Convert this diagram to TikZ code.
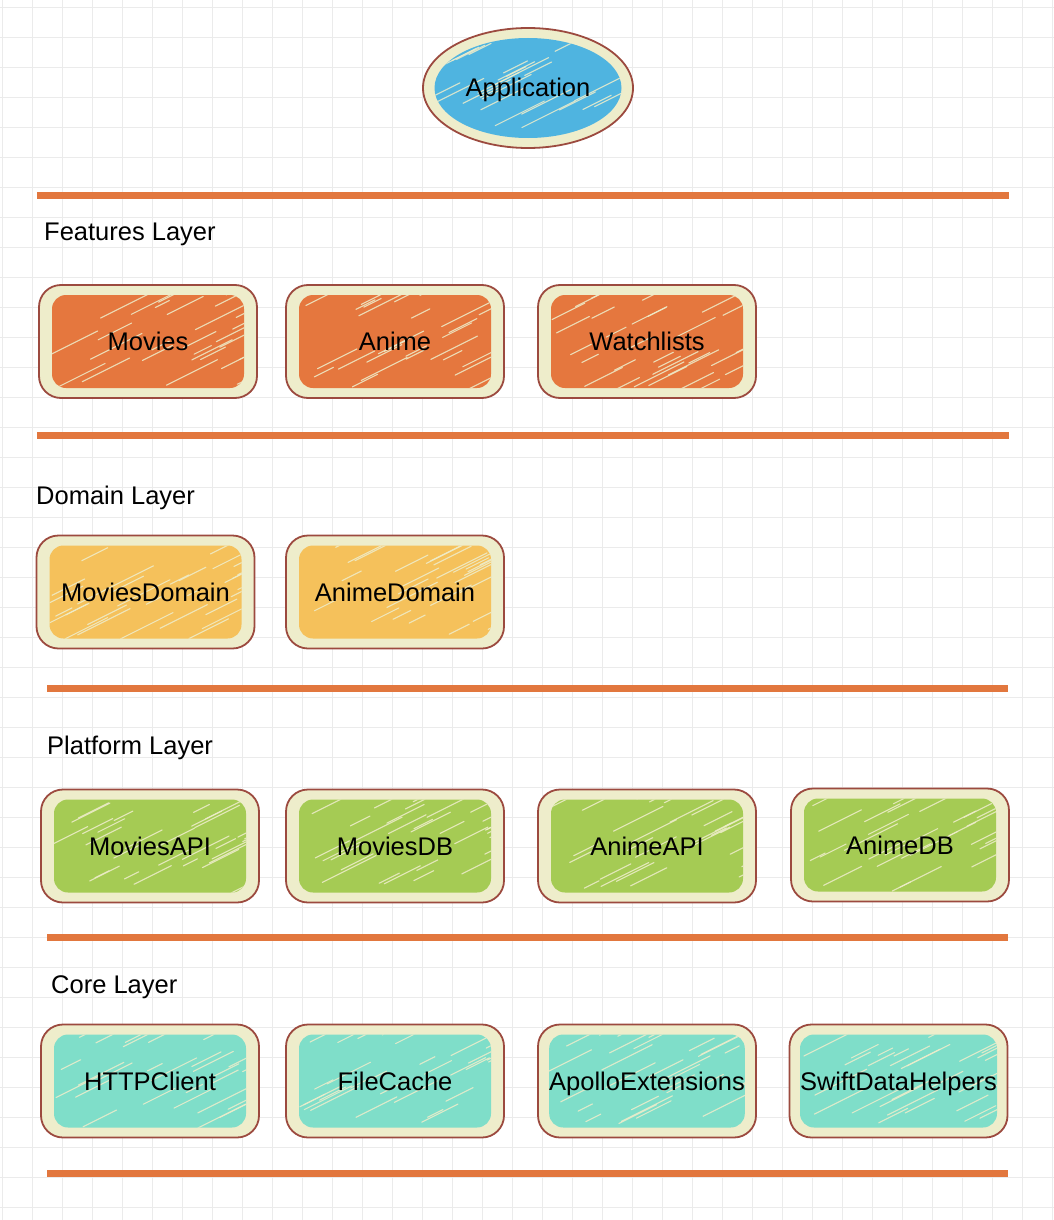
\documentclass[tikz,border=0pt]{standalone}
\usepackage{fontspec}
\setmainfont{Liberation Sans}
\usetikzlibrary{calc,shapes.geometric}
\definecolor{beige}{HTML}{EEEDCB}
\definecolor{edgec}{HTML}{9C4A3F}
\definecolor{sepc}{HTML}{E2773E}
\definecolor{cOrange}{HTML}{E5773E}
\definecolor{cBlue}{HTML}{4FB4E0}
\definecolor{cYellow}{HTML}{F5C15B}
\definecolor{cGreen}{HTML}{A5CB54}
\definecolor{cTeal}{HTML}{7FDEC9}
\definecolor{gridc}{HTML}{EBEBEB}
\pgfmathsetseed{7}
\tikzset{
  hatched/.style={path picture={
    \foreach \k in {1,...,30}{
      \pgfmathsetmacro\hl{14+rnd*40}
      \draw[draw=beige, line width=1.1pt, line cap=round, opacity=0.85]
        ($(path picture bounding box.center)+({rand*100},{rand*50})$) -- ++(\hl,{-0.5*\hl});
    }}},
  outerbox/.style={draw=edgec, line width=1.8pt, fill=beige, rounded corners=22pt,
    minimum width=218pt, minimum height=113pt, inner sep=0pt},
  innerbox/.style={rounded corners=14pt, minimum width=192pt, minimum height=93pt,
    inner sep=0pt, text height=18pt, text depth=0pt, font=\fontsize{25.5}{30}\selectfont, hatched},
  layerlabel/.style={anchor=base west, inner sep=0pt, font=\fontsize{25.5}{30}\selectfont},
  sepline/.style={draw=sepc, line width=7pt},
}
\begin{document}
\begin{tikzpicture}[x=1pt,y=-1pt]
\useasboundingbox (0,0) rectangle (1054,1220);
\fill[white] (0,0) rectangle (1054,1220);
% grid
\foreach \gx in {2,32,...,1052} \draw[gridc, line width=0.9pt] (\gx,0) -- (\gx,1220);
\foreach \gy in {7,37,...,1217} \draw[gridc, line width=0.9pt] (0,\gy) -- (1054,\gy);

% application
\node[ellipse, draw=edgec, line width=1.8pt, fill=beige, minimum width=210pt, minimum height=120pt, inner sep=0pt] (appO) at (528,88) {};
\node[ellipse, fill=cBlue, minimum width=187pt, minimum height=100pt, inner sep=0pt, text height=18pt, text depth=0pt, font=\fontsize{25.5}{30}\selectfont, hatched] (app) at (appO) {Application};

% separators
\coordinate (s1a) at (37,195);  \coordinate (s1b) at (1009,195);
\coordinate (s2a) at (37,435);  \coordinate (s2b) at (1009,435);
\coordinate (s3a) at (47,688);  \coordinate (s3b) at (1008,688);
\coordinate (s4a) at (47,937);  \coordinate (s4b) at (1008,937);
\coordinate (s5a) at (47,1173); \coordinate (s5b) at (1008,1173);
\draw[sepline] (s1a) -- (s1b);
\draw[sepline] (s2a) -- (s2b);
\draw[sepline] (s3a) -- (s3b);
\draw[sepline] (s4a) -- (s4b);
\draw[sepline] (s5a) -- (s5b);

% layer labels
\node[layerlabel] (lf) at (44,240) {Features Layer};
\node[layerlabel] (ld) at (36,504) {Domain Layer};
\node[layerlabel] (lp) at (47,754) {Platform Layer};
\node[layerlabel] (lc) at (51,993) {Core Layer};

% features
\node[outerbox] (movO) at (148,341.5) {};
\node[innerbox, fill=cOrange] (mov) at (movO) {Movies};
\node[outerbox] (aniO) at (395,341.5) {};
\node[innerbox, fill=cOrange] (ani) at (aniO) {Anime};
\node[outerbox] (watO) at (647,341.5) {};
\node[innerbox, fill=cOrange] (wat) at (watO) {Watchlists};

% domain
\node[outerbox] (mdO) at (145.5,592) {};
\node[innerbox, fill=cYellow] (md) at (mdO) {MoviesDomain};
\node[outerbox] (adO) at (395,592) {};
\node[innerbox, fill=cYellow] (ad) at (adO) {AnimeDomain};

% platform
\node[outerbox] (mapiO) at (150,846) {};
\node[innerbox, fill=cGreen] (mapi) at (mapiO) {MoviesAPI};
\node[outerbox] (mdbO) at (395,846) {};
\node[innerbox, fill=cGreen] (mdb) at (mdbO) {MoviesDB};
\node[outerbox] (aapiO) at (647,846) {};
\node[innerbox, fill=cGreen] (aapi) at (aapiO) {AnimeAPI};
\node[outerbox] (adbO) at (900,845) {};
\node[innerbox, fill=cGreen] (adb) at (adbO) {AnimeDB};

% core
\node[outerbox] (httpO) at (150,1081) {};
\node[innerbox, fill=cTeal] (http) at (httpO) {HTTPClient};
\node[outerbox] (fcO) at (395,1081) {};
\node[innerbox, fill=cTeal] (fc) at (fcO) {FileCache};
\node[outerbox] (apO) at (647,1081) {};
\node[innerbox, fill=cTeal] (ap) at (apO) {ApolloExtensions};
\node[outerbox] (sdO) at (898.5,1081) {};
\node[innerbox, fill=cTeal] (sd) at (sdO) {SwiftDataHelpers};
\end{tikzpicture}
\end{document}
